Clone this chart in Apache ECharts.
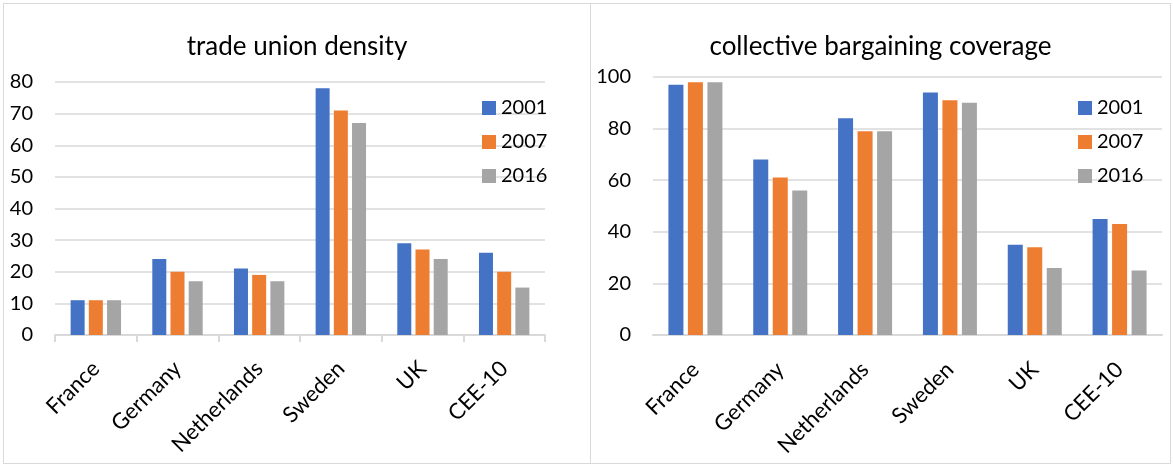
<!DOCTYPE html>
<html>
<head>
<meta charset="utf-8">
<script src="https://cdn.jsdelivr.net/npm/echarts@6/dist/echarts.min.js"></script>
<style>
  html, body { margin: 0; padding: 0; background: #fff; }
  #wrap { position: relative; width: 1173px; height: 468px; }
  .panel { position: absolute; top: 3px; height: 461px; border: 1px solid #d9d9d9; box-sizing: border-box; }
  #left { left: 3px; width: 588px; }
  #right { left: 590px; width: 581px; }
</style>
</head>
<body>
<div id="wrap">
  <div id="left" class="panel"></div>
  <div id="right" class="panel"></div>
</div>
<script>
// Countries shown on both charts
const countries = ['France', 'Germany', 'Netherlands', 'Sweden', 'UK', 'CEE-10'];
const years = ['2001', '2007', '2016'];
const colors = ['#4472C4', '#ED7D31', '#A5A5A5'];

// Trade union density (%)
const density2001 = [11, 24, 21, 78, 29, 26];
const density2007 = [11, 20, 19, 71, 27, 20];
const density2016 = [11, 17, 17, 67, 24, 15];

// Collective bargaining coverage (%)
const coverage2001 = [97, 68, 84, 94, 35, 45];
const coverage2007 = [98, 61, 79, 91, 34, 43];
const coverage2016 = [98, 56, 79, 90, 26, 25];

const FONT = 'Lato';

function buildOption(cfg) {
  return {
    animation: false,
    color: colors,
    title: {
      text: cfg.title,
      left: 'center',
      top: 25,
      textStyle: { fontFamily: FONT, fontSize: 26, fontWeight: 'normal', color: '#000' }
    },
    legend: {
      orient: 'vertical',
      left: cfg.legendLeft,
      top: 89,
      itemWidth: 14,
      itemHeight: 14,
      itemGap: 14,
      icon: 'rect',
      data: years,
      textStyle: { fontFamily: FONT, fontSize: 20, color: '#000' }
    },
    grid: cfg.grid,
    xAxis: {
      type: 'category',
      data: countries,
      axisLine: { show: true, lineStyle: { color: '#d9d9d9', width: 2 } },
      axisTick: { show: cfg.ticks, length: 7, lineStyle: { color: '#d9d9d9', width: 2 } },
      axisLabel: { rotate: 45, margin: cfg.labelMargin, fontFamily: FONT, fontSize: 22, color: '#000', interval: 0 }
    },
    yAxis: {
      type: 'value',
      min: 0,
      max: cfg.max,
      interval: cfg.interval,
      axisLine: { show: false },
      axisTick: { show: false },
      splitLine: { lineStyle: { color: '#d9d9d9', width: 1.5 } },
      axisLabel: { margin: 22, fontFamily: FONT, fontSize: 20, color: '#000' }
    },
    series: cfg.values.map((vals, i) => ({
      name: years[i],
      type: 'bar',
      data: vals,
      barWidth: cfg.barWidth,
      barGap: '30%'
    }))
  };
}

const leftChart = echarts.init(document.getElementById('left'));
leftChart.setOption(buildOption({
  title: 'trade union density',
  legendLeft: 473,
  grid: { left: 51, top: 78, width: 490, height: 253 },
  ticks: true,
  labelMargin: 30,
  max: 80,
  interval: 10,
  barWidth: 14,
  values: [density2001, density2007, density2016]
}));

const rightChart = echarts.init(document.getElementById('right'));
rightChart.setOption(buildOption({
  title: 'collective bargaining coverage',
  legendLeft: 482,
  grid: { left: 62, top: 73, width: 509, height: 258 },
  ticks: false,
  labelMargin: 31,
  max: 100,
  interval: 20,
  barWidth: 15,
  values: [coverage2001, coverage2007, coverage2016]
}));
</script>
</body>
</html>
